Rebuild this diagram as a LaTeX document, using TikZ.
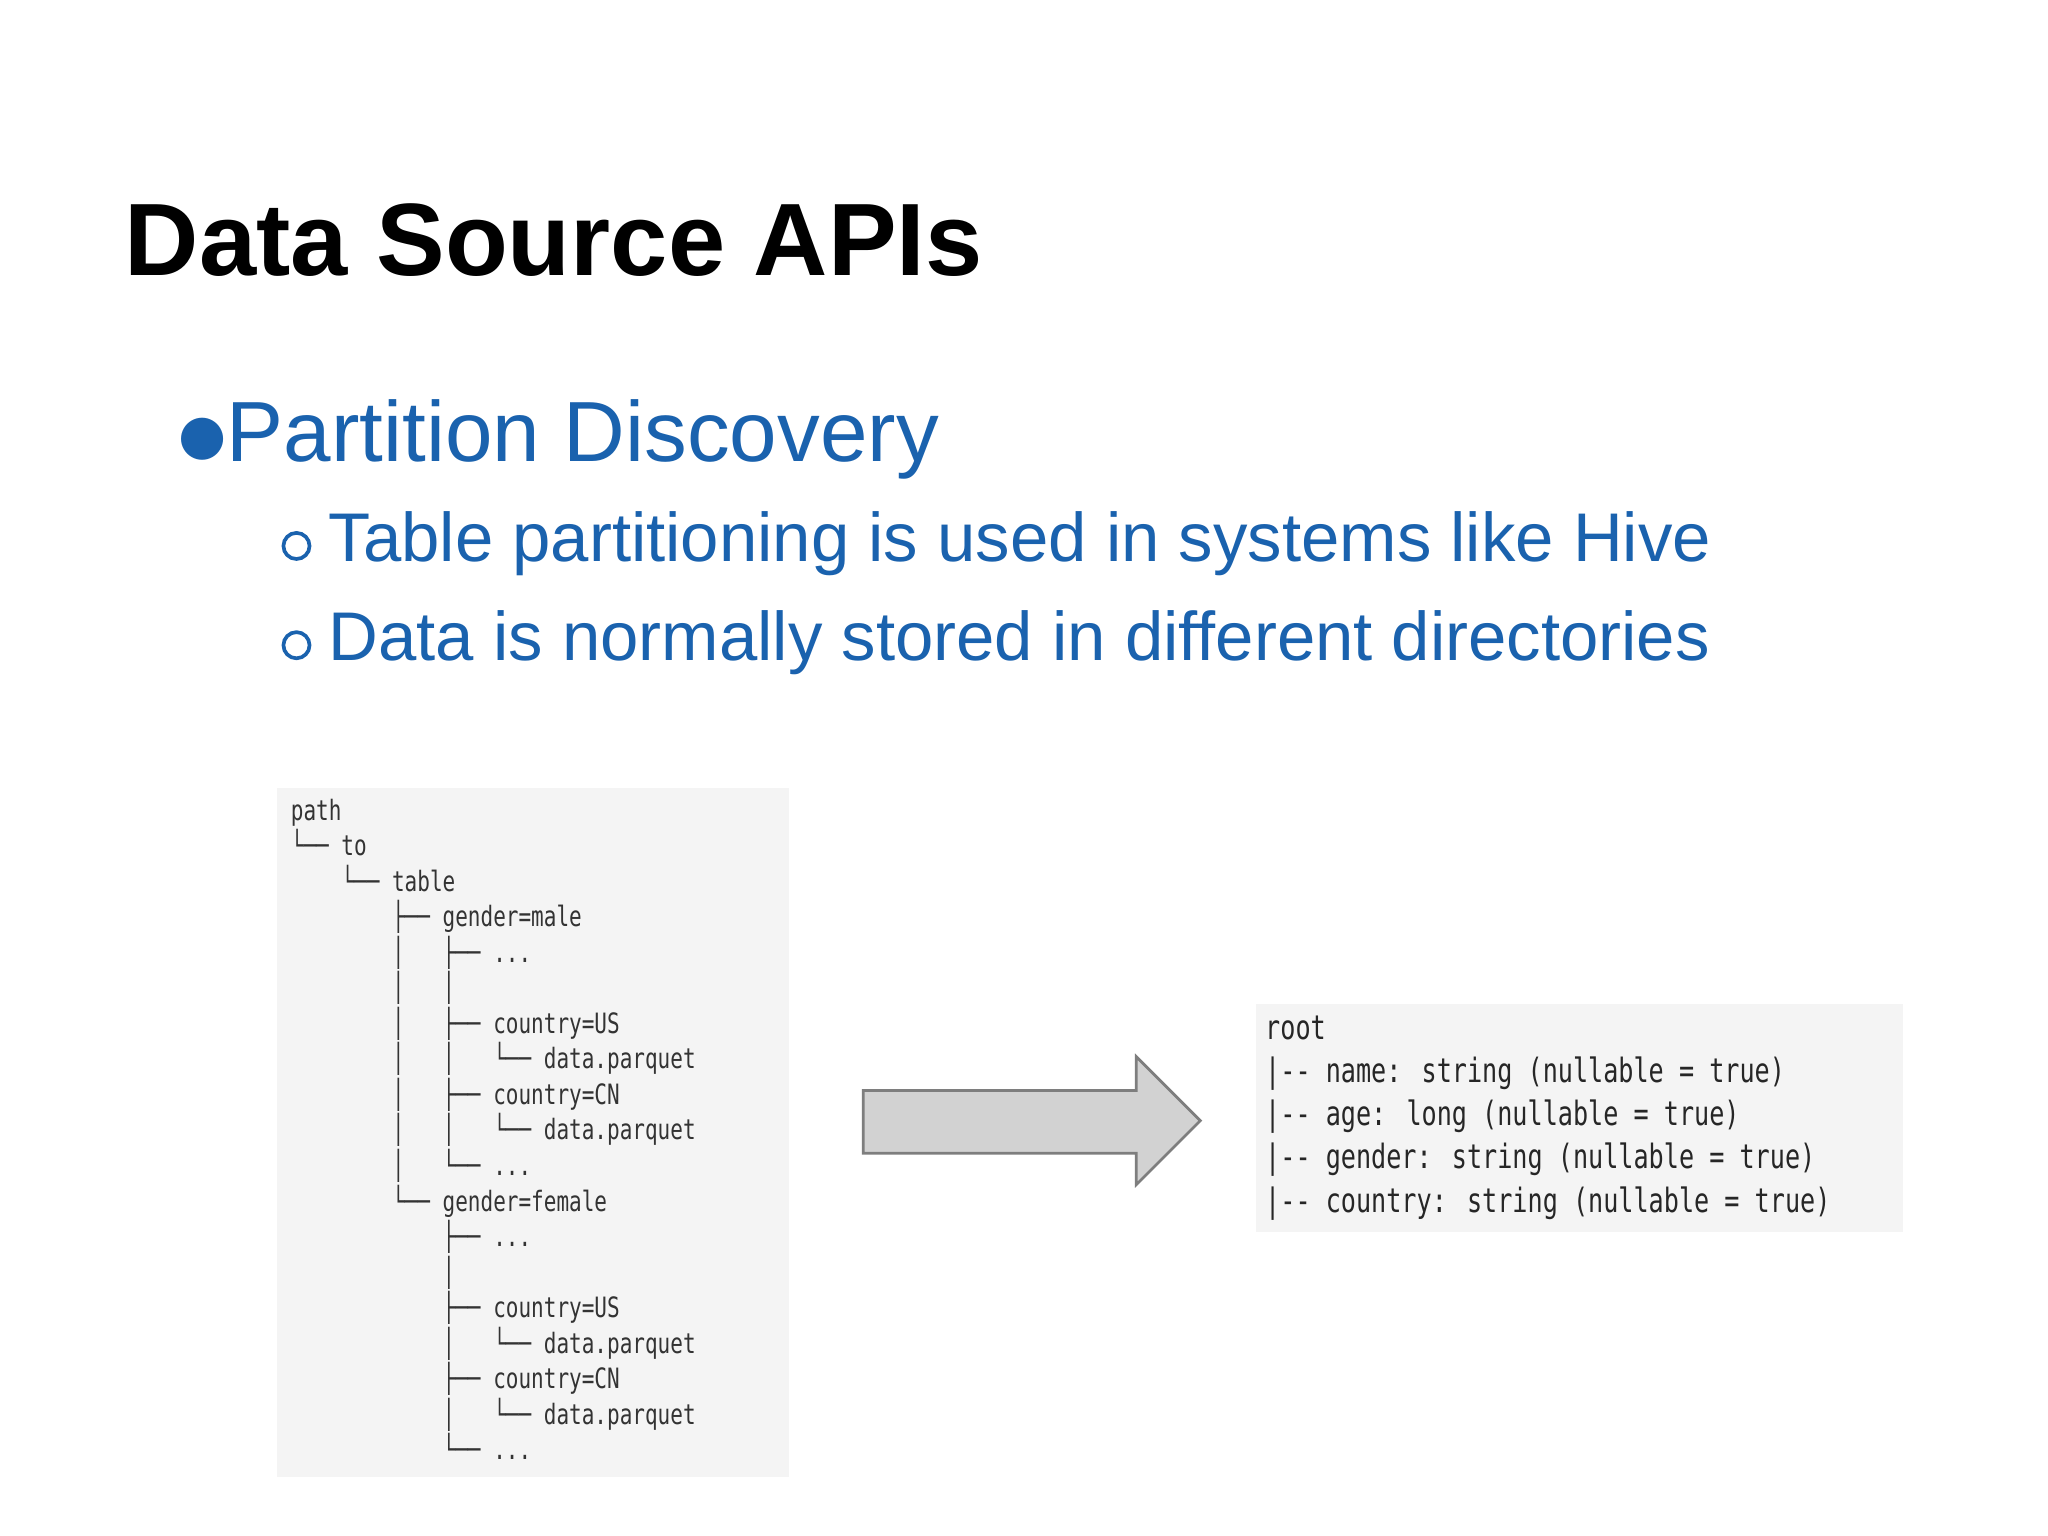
\documentclass[tikz,border=0pt]{standalone}
\usepackage{fontspec}
\setmainfont{Liberation Sans}
\newfontfamily\codefont[FakeStretch=0.75]{DejaVu Sans Mono}
\newfontfamily\symfont{DejaVu Sans}
\definecolor{slideblue}{HTML}{1A62AE}
\definecolor{panel}{HTML}{F4F4F4}
\definecolor{arrowfill}{HTML}{D2D2D2}
\newcommand\mydots{.{}.{}.}
\begin{document}
\begin{tikzpicture}[x=0.01cm,y=-0.01cm,
  txt/.style={anchor=base west,inner sep=0pt},
  code/.style={txt,font=\codefont\fontsize{6.1}{7}\selectfont,text=black!80},
  code2/.style={txt,font=\codefont\fontsize{7.3}{8}\selectfont,text=black!85}]
\useasboundingbox (0,0) rectangle (1568,1176);
\fill[white] (0,0) rectangle (1568,1176);
\node[txt,font=\bfseries\fontsize{22.4}{26}\selectfont] (title) at (95,211) {Data Source APIs};
\node[txt,font=\symfont\fontsize{12}{14}\selectfont,text=slideblue] (b1) at (136,347) {●};
\node[txt,font=\fontsize{18.6}{22}\selectfont,text=slideblue] (t1) at (173,353) {Partition Discovery};
\draw[slideblue,line width=0.8pt] (227,418) circle (10);
\node[txt,font=\fontsize{15}{18}\selectfont,text=slideblue] (t2) at (251,430) {Table partitioning is used in systems like Hive};
\draw[slideblue,line width=0.8pt] (227,494) circle (10);
\node[txt,font=\fontsize{15}{18}\selectfont,text=slideblue] (t3) at (251,506) {Data is normally stored in different directories};
% left panel
\fill[panel] (212,603) rectangle (604,1131);
\foreach \s [count=\i] in {
{path},
{└── to},
{\ \ \ \ └── table},
{\ \ \ \ \ \ \ \ ├── gender=male},
{\ \ \ \ \ \ \ \ │\ \ \ ├── \mydots},
{\ \ \ \ \ \ \ \ │\ \ \ │},
{\ \ \ \ \ \ \ \ │\ \ \ ├── country=US},
{\ \ \ \ \ \ \ \ │\ \ \ │\ \ \ └── data.parquet},
{\ \ \ \ \ \ \ \ │\ \ \ ├── country=CN},
{\ \ \ \ \ \ \ \ │\ \ \ │\ \ \ └── data.parquet},
{\ \ \ \ \ \ \ \ │\ \ \ └── \mydots},
{\ \ \ \ \ \ \ \ └── gender=female},
{\ \ \ \ \ \ \ \ \ \ \ \ ├── \mydots},
{\ \ \ \ \ \ \ \ \ \ \ \ │},
{\ \ \ \ \ \ \ \ \ \ \ \ ├── country=US},
{\ \ \ \ \ \ \ \ \ \ \ \ │\ \ \ └── data.parquet},
{\ \ \ \ \ \ \ \ \ \ \ \ ├── country=CN},
{\ \ \ \ \ \ \ \ \ \ \ \ │\ \ \ └── data.parquet},
{\ \ \ \ \ \ \ \ \ \ \ \ └── \mydots}}
  \node[code] (l\i) at (222,{628+(\i-1)*27.2}) {\s};
% arrow
\draw[arrowfill!60!black,fill=arrowfill,line width=0.6pt] (661,835) -- (870,835) -- (870,809) -- (919,858) -- (870,907) -- (870,883) -- (661,883) -- cycle;
% right panel
\fill[panel] (962,769) rectangle (1457,943);
\node[code2] (r1) at (968,796) {root};
\node[code2] (r2) at (968,829) {|-- name: string (nullable = true)};
\node[code2] (r3) at (968,862) {|-- age: long (nullable = true)};
\node[code2] (r4) at (968,895) {|-- gender: string (nullable = true)};
\node[code2] (r5) at (968,928) {|-- country: string (nullable = true)};
\end{tikzpicture}
\end{document}
